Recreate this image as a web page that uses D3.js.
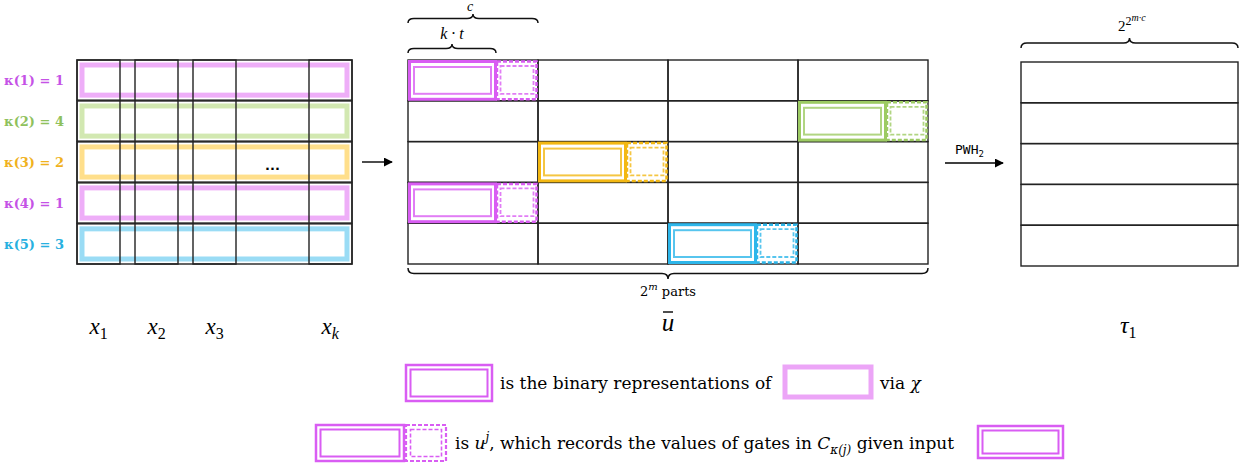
<!DOCTYPE html>
<html>
<head>
<meta charset="utf-8">
<script src="https://cdn.jsdelivr.net/npm/d3@7"></script>
<style>
  body { margin: 0; background: #fff; }
  svg { display: block; }
  .serif { font-family: "Liberation Serif", "DejaVu Serif", serif; }
  .wide { font-family: "DejaVu Serif", serif; }
</style>
</head>
<body>
<script>
// kappa(j) for every input row j, and the block each one lands in
const kappa = [1, 4, 2, 1, 3];
const inputNames = [["x", "1"], ["x", "2"], ["x", "3"], ["x", "k"]];
const inputSlots = [0, 1, 2, 4];      // slot 3 is the "..." gap
const nParts = 4;                      // 2^m parts of u-bar
const nOutRows = 5;                    // rows of tau_1

// colours follow the row (its kappa group)
const rowLight = ["#eca5f7", "#cde6a8", "#ffdc7e", "#eca5f7", "#8fd8f4"];
const rowStrong = ["#d95df3", "#9dcb63", "#f3b813", "#d95df3", "#2db6ea"];
const rowLabel = ["#c552e6", "#8fc15c", "#f0b21e", "#c552e6", "#27b0e0"];

const W = 1250, H = 467;
const svg = d3.select("body").append("svg").attr("width", W).attr("height", H);

svg.append("defs").append("marker")
    .attr("id", "arr")
    .attr("viewBox", "0 0 10 10")
    .attr("refX", 9).attr("refY", 5)
    .attr("markerWidth", 9).attr("markerHeight", 9)
    .attr("markerUnits", "userSpaceOnUse")
    .attr("orient", "auto")
    .append("path").attr("d", "M0,0 L10,5 L0,10 z").attr("fill", "#000");

// curly brace, dir = -1 tip up, +1 tip down
function brace(x1, x2, y, h, dir) {
    let xm = (x1 + x2) / 2, r = 6;
    let ym = y + dir * h / 2, yt = y + dir * h;
    return `M${x1},${y} Q${x1},${ym} ${x1 + r},${ym} L${xm - r},${ym} Q${xm},${ym} ${xm},${yt}`
        + ` Q${xm},${ym} ${xm + r},${ym} L${x2 - r},${ym} Q${x2},${ym} ${x2},${y}`;
}
function drawBrace(x1, x2, y, h, dir) {
    svg.append("path").attr("d", brace(x1, x2, y, h, dir))
        .attr("fill", "none").attr("stroke", "#111").attr("stroke-width", 1.5);
}

// shared row scale
let rows = d3.scaleBand().domain(d3.range(kappa.length)).range([60, 264]).paddingInner(0.02);

// ---------- left: inputs ----------
let colX = d3.scaleLinear().domain([0, 4]).range([77, 309]);
let colW = 43;
let leftX0 = 77, leftX1 = 352;

let left = svg.append("g");
left.selectAll("rect.row").data(kappa).join("rect")
    .attr("x", leftX0).attr("y", (d, i) => rows(i))
    .attr("width", leftX1 - leftX0).attr("height", rows.bandwidth())
    .attr("fill", "none").attr("stroke", "#222").attr("stroke-width", 1.4);

left.selectAll("rect.hl").data(kappa).join("rect")
    .attr("x", leftX0 + 5).attr("y", (d, i) => rows(i) + 5)
    .attr("width", leftX1 - leftX0 - 10).attr("height", rows.bandwidth() - 10)
    .attr("fill", "none").attr("stroke", (d, i) => rowLight[i])
    .attr("stroke-width", 5).attr("opacity", 0.9);

left.selectAll("rect.col").data(inputSlots).join("rect")
    .attr("x", d => colX(d)).attr("y", 60)
    .attr("width", colW).attr("height", 204)
    .attr("fill", "none").attr("stroke", "#222").attr("stroke-width", 1.4);

left.append("text").attr("x", colX(3) + colW / 2).attr("y", rows(2) + 28)
    .attr("text-anchor", "middle").attr("font-family", "DejaVu Sans")
    .attr("font-weight", "bold").attr("font-size", 13).text("...");

// kappa labels
left.selectAll("text.k").data(kappa).join("text")
    .attr("x", 64).attr("y", (d, i) => rows(i) + rows.bandwidth() / 2 + 5)
    .attr("text-anchor", "end")
    .attr("font-family", "DejaVu Serif").attr("font-weight", "bold").attr("font-size", 13)
    .attr("fill", (d, i) => rowLabel[i])
    .text((d, i) => `κ(${i + 1}) = ${d}`);

// x labels
inputSlots.forEach((s, i) => {
    let t = svg.append("text").attr("class", "serif")
        .attr("x", colX(s) + colW / 2 - 9).attr("y", 334)
        .attr("font-size", 23).attr("font-style", "italic");
    t.append("tspan").text(inputNames[i][0]);
    t.append("tspan").attr("dy", 5).attr("font-size", 16)
        .attr("font-style", inputNames[i][1] === "k" ? "italic" : "normal")
        .text(inputNames[i][1]);
});

// arrow 1
svg.append("line").attr("x1", 362).attr("x2", 392).attr("y1", 162).attr("y2", 162)
    .attr("stroke", "#000").attr("stroke-width", 1.4).attr("marker-end", "url(#arr)");

// ---------- middle: u-bar ----------
let partX = d3.scaleLinear().domain([0, nParts]).range([408, 928]);
let partW = partX(1) - partX(0);
let ktW = 88;   // k*t share of a block
let midRows = d3.scaleBand().domain(d3.range(kappa.length)).range([60, 264]);

let mid = svg.append("g");
kappa.forEach((k, i) => {
    d3.range(nParts).forEach(c => {
        mid.append("rect")
            .attr("x", partX(c)).attr("y", midRows(i))
            .attr("width", partW).attr("height", midRows.bandwidth())
            .attr("fill", "none").attr("stroke", "#222").attr("stroke-width", 1.4);
    });
});

kappa.forEach((k, i) => {
    let x0 = partX(k - 1), y0 = midRows(i), h = midRows.bandwidth();
    let col = rowStrong[i];
    let g = mid.append("g");
    // solid k*t part, double border
    g.append("rect").attr("x", x0 + 1.5).attr("y", y0 + 1.5)
        .attr("width", ktW - 2).attr("height", h - 3)
        .attr("fill", "#fff").attr("stroke", col).attr("stroke-width", 3);
    g.append("rect").attr("x", x0 + 6).attr("y", y0 + 7)
        .attr("width", ktW - 11).attr("height", h - 14)
        .attr("fill", "none").attr("stroke", col).attr("stroke-width", 2).attr("opacity", 0.8);
    // dashed remainder
    g.append("rect").attr("x", x0 + ktW + 1).attr("y", y0 + 1.5)
        .attr("width", partW - ktW - 2.5).attr("height", h - 3)
        .attr("fill", "#fff").attr("stroke", col).attr("stroke-width", 2.5)
        .attr("stroke-dasharray", "4 2");
    g.append("rect").attr("x", x0 + ktW + 4.5).attr("y", y0 + 6)
        .attr("width", partW - ktW - 9).attr("height", h - 13)
        .attr("fill", "none").attr("stroke", col).attr("stroke-width", 1.8)
        .attr("stroke-dasharray", "4 2").attr("opacity", 0.8);
});

// braces over / under u-bar
drawBrace(partX(0), partX(1), 23, 9, -1);
svg.append("text").attr("class", "serif").attr("x", (partX(0) + partX(1)) / 2 - 3).attr("y", 11)
    .attr("text-anchor", "middle").attr("font-style", "italic").attr("font-size", 14).text("c");
drawBrace(partX(0), partX(0) + ktW, 53, 9, -1);
svg.append("text").attr("class", "serif").attr("x", partX(0) + ktW / 2).attr("y", 39)
    .attr("text-anchor", "middle").attr("font-style", "italic").attr("font-size", 16).text("k · t");
drawBrace(partX(0), partX(nParts), 268, 11, 1);
let parts = svg.append("text").attr("class", "wide").attr("x", partX(nParts / 2)).attr("y", 296)
    .attr("text-anchor", "middle").attr("font-size", 13);
parts.append("tspan").text("2");
parts.append("tspan").attr("dy", -6).attr("font-size", 10).attr("font-style", "italic").text("m");
parts.append("tspan").attr("dy", 6).text(" parts");

svg.append("text").attr("class", "serif").attr("x", partX(nParts / 2)).attr("y", 331)
    .attr("text-anchor", "middle").attr("font-style", "italic").attr("font-size", 25).text("u");
svg.append("line").attr("x1", partX(nParts / 2) - 5).attr("x2", partX(nParts / 2) + 5)
    .attr("y1", 312).attr("y2", 312).attr("stroke", "#000").attr("stroke-width", 1.4);

// arrow 2
svg.append("line").attr("x1", 945).attr("x2", 1003).attr("y1", 163).attr("y2", 163)
    .attr("stroke", "#000").attr("stroke-width", 1.4).attr("marker-end", "url(#arr)");
let pwh = svg.append("text").attr("x", 955).attr("y", 154)
    .attr("font-family", "DejaVu Sans Mono").attr("font-size", 13);
pwh.append("tspan").text("PWH");
pwh.append("tspan").attr("dy", 3).attr("font-size", 9).text("2");

// ---------- right: tau_1 ----------
let outRows = d3.scaleBand().domain(d3.range(nOutRows)).range([62, 266]);
svg.append("g").selectAll("rect").data(d3.range(nOutRows)).join("rect")
    .attr("x", 1021).attr("y", d => outRows(d))
    .attr("width", 217).attr("height", outRows.bandwidth())
    .attr("fill", "none").attr("stroke", "#222").attr("stroke-width", 1.4);
drawBrace(1021, 1238, 48, 10, -1);
let ex = svg.append("text").attr("class", "serif").attr("x", 1118).attr("y", 31).attr("font-size", 15);
ex.append("tspan").text("2");
ex.append("tspan").attr("dy", -6).attr("font-size", 12).text("2");
ex.append("tspan").attr("dy", -4).attr("font-size", 10).attr("font-style", "italic").text("m·c");

let tau = svg.append("text").attr("class", "serif").attr("x", 1120).attr("y", 333)
    .attr("font-size", 24).attr("font-style", "italic");
tau.append("tspan").text("τ");
tau.append("tspan").attr("dy", 5).attr("font-size", 16).attr("font-style", "normal").text("1");

// ---------- legend ----------
function doubleBox(x, y, w, h, col) {
    svg.append("rect").attr("x", x).attr("y", y).attr("width", w).attr("height", h)
        .attr("fill", "#fff").attr("stroke", col).attr("stroke-width", 2.5);
    svg.append("rect").attr("x", x + 4.5).attr("y", y + 4.5).attr("width", w - 9).attr("height", h - 9)
        .attr("fill", "none").attr("stroke", col).attr("stroke-width", 2);
}
function dashedBox(x, y, w, h, col) {
    svg.append("rect").attr("x", x).attr("y", y).attr("width", w).attr("height", h)
        .attr("fill", "#fff").attr("stroke", col).attr("stroke-width", 2.2).attr("stroke-dasharray", "4 2");
    svg.append("rect").attr("x", x + 4.5).attr("y", y + 4.5).attr("width", w - 9).attr("height", h - 9)
        .attr("fill", "none").attr("stroke", col).attr("stroke-width", 1.6).attr("stroke-dasharray", "4 2");
}
let pink = rowStrong[0];

doubleBox(406, 365, 86, 36, pink);
svg.append("text").attr("class", "wide").attr("x", 500).attr("y", 389).attr("font-size", 17)
    .text("is the binary representations of");
svg.append("rect").attr("x", 785).attr("y", 367).attr("width", 86).attr("height", 30)
    .attr("fill", "none").attr("stroke", rowLight[0]).attr("stroke-width", 5);
let via = svg.append("text").attr("class", "wide").attr("x", 880).attr("y", 389).attr("font-size", 17);
via.append("tspan").text("via ");
via.append("tspan").attr("font-style", "italic").text("χ");

doubleBox(316, 425, 88, 36, pink);
dashedBox(406, 425, 40, 36, pink);
let l2 = svg.append("text").attr("class", "wide").attr("x", 455).attr("y", 449).attr("font-size", 17);
l2.append("tspan").text("is ");
l2.append("tspan").attr("font-style", "italic").text("u");
l2.append("tspan").attr("dy", -8).attr("font-size", 12).attr("font-style", "italic").text("j");
l2.append("tspan").attr("dy", 8).text(", which records the values of gates in ");
l2.append("tspan").attr("font-style", "italic").text("C");
l2.append("tspan").attr("dy", 5).attr("font-size", 12).attr("font-style", "italic").text("κ(j)");
l2.append("tspan").attr("dy", -5).text(" given input");
doubleBox(978, 426, 85, 32, pink);
</script>
</body>
</html>
